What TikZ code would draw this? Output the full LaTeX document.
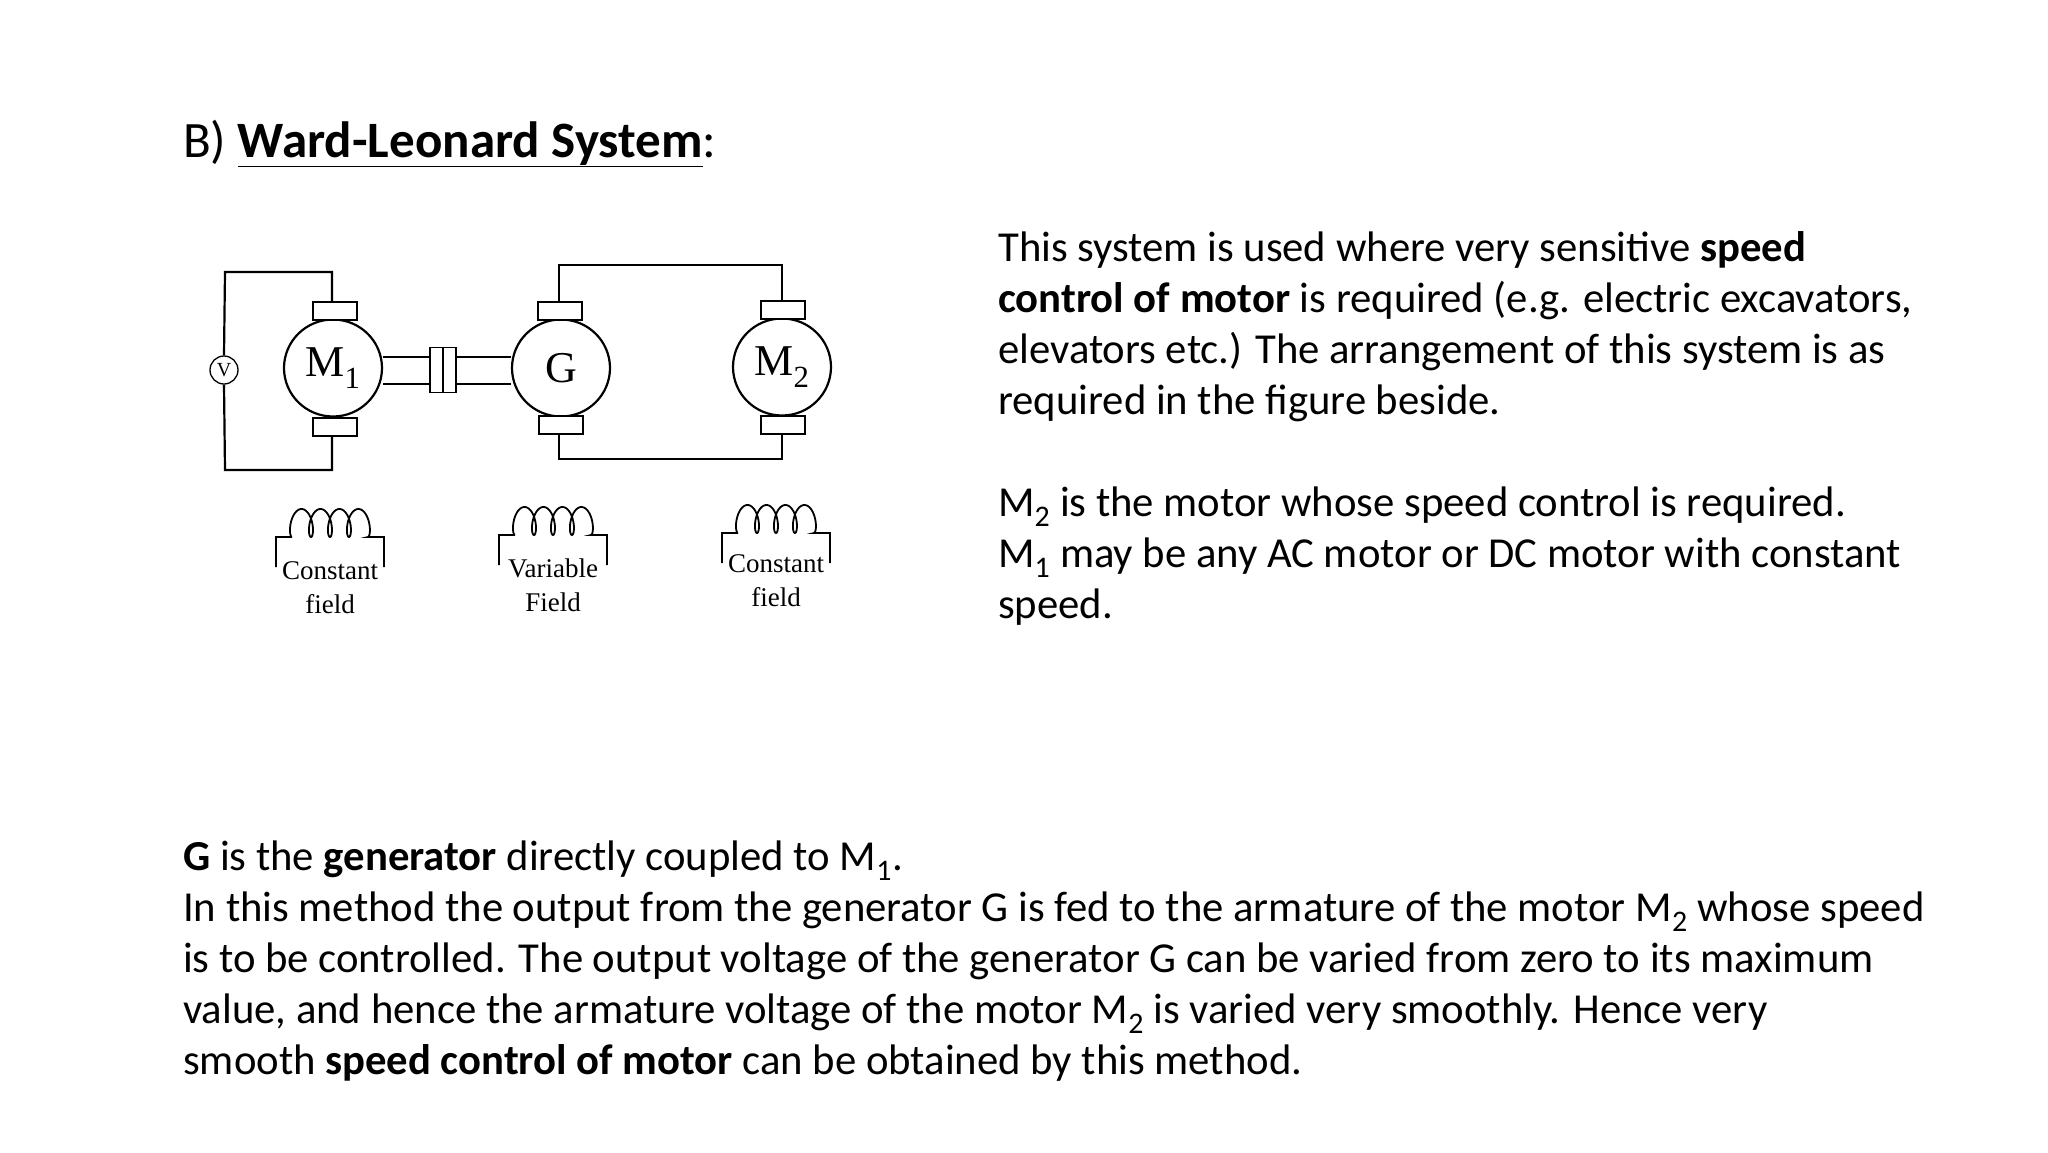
\documentclass[tikz,border=0pt]{standalone}
\usepackage{fontspec}
\setmainfont{Carlito}
\newfontfamily\diag{Liberation Serif}
\usetikzlibrary{shapes.geometric}
\begin{document}
\begin{tikzpicture}[x=1pt,y=-1pt,
  wire/.style={line width=2.2pt},
  mach/.style={ellipse,draw,line width=2.2pt,minimum width=98pt,minimum height=97pt,inner sep=0pt,font=\diag\fontsize{44}{44}\selectfont},
  brush/.style={draw,fill=white,line width=2.2pt,minimum width=44pt,minimum height=18pt,inner sep=0pt},
  lbl/.style={font=\diag\fontsize{27}{34}\selectfont,align=center,inner sep=0pt,anchor=north},
  txt/.style={anchor=base west,inner sep=0pt,font=\fontsize{42.7}{51}\selectfont}]
\useasboundingbox (0,0) rectangle (2048,1152);
% title
\node[txt,font=\fontsize{51}{60}\selectfont] (title) at (183,157) {B) \underline{\textbf{Ward-Leonard System}}:};
% machines
\node[mach] (m1) at (333,368) {M\textsubscript{1}};
\node[mach] (g) at (561,368) {G};
\node[mach] (m2) at (782,367) {M\textsubscript{2}};
\node[brush] (m1t) at (335,311) {};
\node[brush] (m1b) at (335,427) {};
\node[brush] (gt) at (560,311) {};
\node[brush] (gb) at (561,425) {};
\node[brush] (m2t) at (783,310) {};
\node[brush] (m2b) at (783,425) {};
\node[circle,draw,line width=1.3pt,minimum size=28pt,inner sep=0pt,font=\diag\fontsize{20}{20}\selectfont] (v) at (224,370) {V};
% wires
\coordinate (a1) at (225,272); \coordinate (a2) at (332,272);
\coordinate (b1) at (225,470); \coordinate (b2) at (332,470);
\draw[wire] (v.north) -- (a1) -- (a2) -- (a2 |- m1t.north);
\draw[wire] (v.south) -- (b1) -- (b2) -- (b2 |- m1b.south);
\coordinate (c1) at (559,265); \coordinate (c2) at (782,265);
\coordinate (d1) at (559,459); \coordinate (d2) at (782,459);
\draw[wire] (c1 |- gt.north) -- (c1) -- (c2) -- (c2 |- m2t.north);
\draw[wire] (d1 |- gb.south) -- (d1) -- (d2) -- (d2 |- m2b.south);
% shaft and coupling
\draw[wire] (m1.east |- 0,357) -- (g.west |- 0,357);
\draw[wire] (m1.east |- 0,384) -- (g.west |- 0,384);
\node[draw,fill=white,line width=1.8pt,minimum width=26pt,minimum height=45pt,inner sep=0pt] (cp) at (443,370) {};
\draw[line width=1.8pt] (cp.north) -- (cp.south);
% coils
\foreach \cx/\cb/\cl/\tl in {276/537/{Constant\\field}/575, 499/535/{Variable\\Field}/573, 722/533/{Constant\\field}/568}{
  \draw[line width=1.8pt] (\cx,\cb+30) -- (\cx,\cb) -- (\cx+16,\cb)
    plot[domain=0:25.133,samples=240] ({\cx+16+3.02*\x - 6*sin(\x r)}, {\cb-14*(1-cos(\x r))})
    -- (\cx+108,\cb) -- (\cx+108,\cb+30);
  \node[lbl] at (\cx+54,\tl-14) {\cl};
}
% right paragraph
\node[txt] (r1) at (998,261) {This system is used where very sensitive \textbf{speed}};
\node[txt] (r2) at (998,312) {\textbf{control of motor} is required (e.g. electric excavators,};
\node[txt] (r3) at (998,363) {elevators etc.) The arrangement of this system is as};
\node[txt] (r4) at (998,414) {required in the figure beside.};
\node[txt] (r5) at (998,516) {M\textsubscript{2} is the motor whose speed control is required.};
\node[txt] (r6) at (998,567) {M\textsubscript{1} may be any AC motor or DC motor with constant};
\node[txt] (r7) at (998,618) {speed.};
% bottom paragraph
\node[txt] (b1t) at (183,870) {\textbf{G} is the \textbf{generator} directly coupled to M\textsubscript{1}.};
\node[txt] (b2t) at (183,921) {In this method the output from the generator G is fed to the armature of the motor M\textsubscript{2} whose speed};
\node[txt] (b3t) at (183,972) {is to be controlled. The output voltage of the generator G can be varied from zero to its maximum};
\node[txt] (b4t) at (183,1023) {value, and hence the armature voltage of the motor M\textsubscript{2} is varied very smoothly. Hence very};
\node[txt] (b5t) at (183,1074) {smooth \textbf{speed control of motor} can be obtained by this method.};
\end{tikzpicture}
\end{document}
